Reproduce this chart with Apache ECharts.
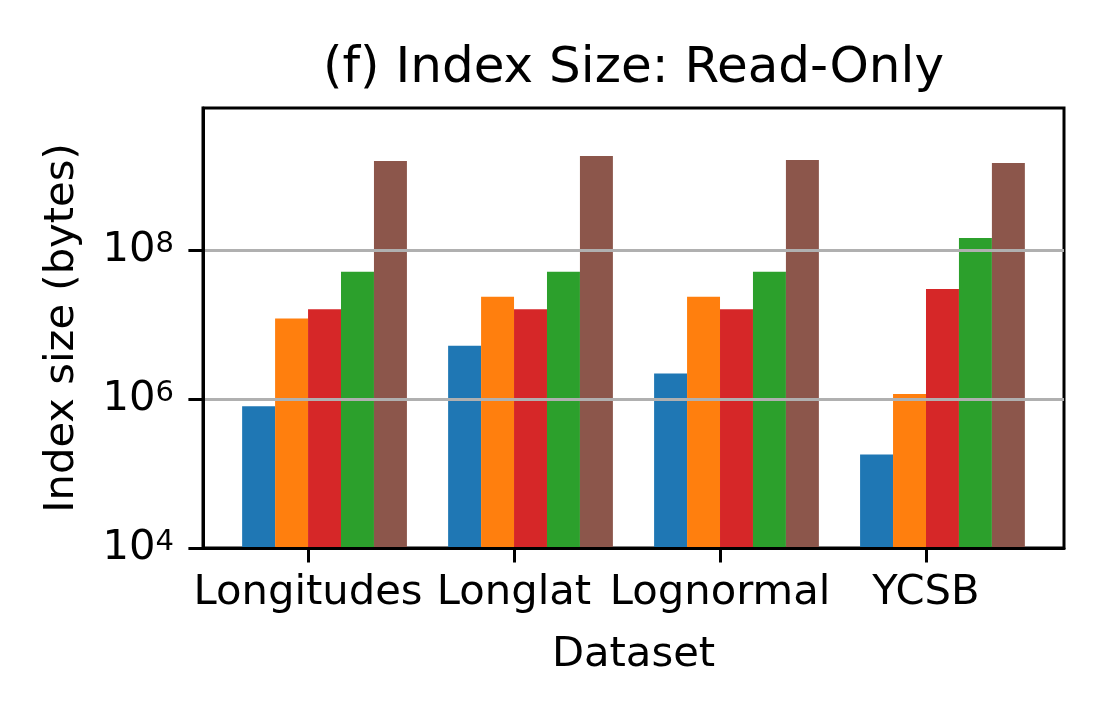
<!DOCTYPE html>
<html><head><meta charset="utf-8">
<script src="https://cdn.jsdelivr.net/npm/echarts@6/dist/echarts.min.js"></script>
<style>html,body{margin:0;padding:0;background:#fff}#c{width:1110px;height:720px}</style>
</head><body><div id="c"></div>
<script>
const categories = ['Longitudes', 'Longlat', 'Lognormal', 'YCSB'];
const blueValues = [8.0e5, 5.2e6, 2.2e6, 1.8e5];
const orangeValues = [1.2e7, 2.35e7, 2.35e7, 1.17e6];
const redValues = [1.6e7, 1.6e7, 1.6e7, 3.0e7];
const greenValues = [5.1e7, 5.1e7, 5.1e7, 1.45e8];
const brownValues = [1.57e9, 1.83e9, 1.61e9, 1.47e9];
const yTickValues = [1e4, 1e6, 1e8];
const xTickValues = [0, 1, 2, 3];
const yMin = 1e4, yMax = 8.05e9;
const xMin = -0.51, xMax = 3.67;

const FONT = 'DejaVu Sans';
const seriesDefs = [
  {name: 'S1', color: '#1f77b4', values: blueValues},
  {name: 'S2', color: '#ff7f0e', values: orangeValues},
  {name: 'S3', color: '#d62728', values: redValues},
  {name: 'S4', color: '#2ca02c', values: greenValues},
  {name: 'S5', color: '#8c564b', values: brownValues}
];
const series = [{type: 'bar', name: '', data: [], barWidth: '16%', barGap: '0%'}];
seriesDefs.forEach(d => series.push({
  type: 'bar', name: d.name, barWidth: '16%', barGap: '0%', clip: true,
  itemStyle: {color: d.color},
  data: d.values.map((v, i) => [i, v])
}));

const chart = echarts.init(document.getElementById('c'), null, {renderer: 'canvas'});
chart.setOption({
  animation: false,
  backgroundColor: '#fff',
  textStyle: {fontFamily: FONT},
  title: {
    text: '(f) Index Size: Read-Only', left: 633.5, top: 44, textAlign: 'center', padding: 0,
    textStyle: {fontFamily: FONT, fontSize: 50, fontWeight: 'normal', color: '#000'}
  },
  grid: {left: 203, top: 108, width: 861, height: 440, show: true, borderColor: '#000', borderWidth: 3, backgroundColor: 'transparent'},
  xAxis: {
    type: 'value', min: xMin, max: xMax, z: 5,
    name: 'Dataset', nameLocation: 'middle', nameGap: 86,
    nameTextStyle: {fontFamily: FONT, fontSize: 41.7, color: '#000'},
    axisLine: {show: true, onZero: false, lineStyle: {color: '#000', width: 3}},
    axisTick: {show: true, customValues: xTickValues, length: 14.6, lineStyle: {color: '#000', width: 3}},
    axisLabel: {customValues: xTickValues, margin: 24, fontFamily: FONT, fontSize: 41.7, color: '#000',
      formatter: v => categories[Math.round(v)] || ''},
    splitLine: {show: false}
  },
  yAxis: {
    type: 'log', logBase: 10, min: yMin, max: yMax, interval: 2, z: 5,
    name: 'Index size (bytes)', nameLocation: 'middle', nameGap: 120,
    nameTextStyle: {fontFamily: FONT, fontSize: 41.7, color: '#000'},
    axisLine: {show: true, onZero: false, lineStyle: {color: '#000', width: 3}},
    axisTick: {show: true, customValues: yTickValues, length: 14.6, lineStyle: {color: '#000', width: 3}},
    axisLabel: {customValues: yTickValues, margin: 29, color: '#000',
      formatter: v => '{b|10}{s|' + Math.round(Math.log10(v)) + '}',
      rich: {
        b: {fontFamily: FONT, fontSize: 41.7, color: '#000', verticalAlign: 'bottom'},
        s: {fontFamily: FONT, fontSize: 29, color: '#000', verticalAlign: 'bottom', padding: [0, 0, 12, 0]}
      }},
    splitLine: {show: true, lineStyle: {color: '#b0b0b0', width: 3}}
  },
  series: series
});
</script></body></html>
